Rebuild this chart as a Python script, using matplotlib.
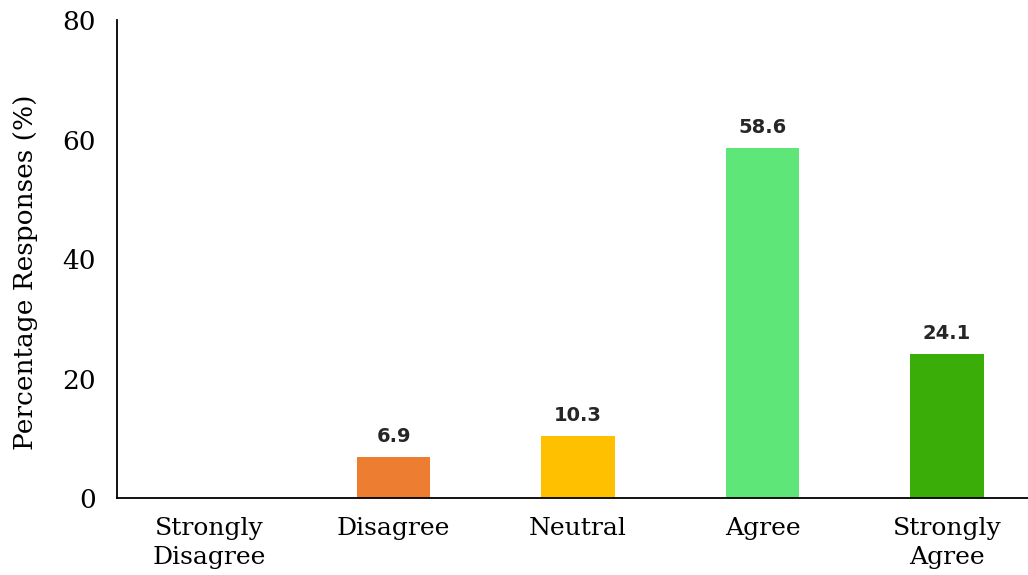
import matplotlib
matplotlib.use('Agg')
import matplotlib.pyplot as plt

categories = ['Strongly\nDisagree', 'Disagree', 'Neutral', 'Agree', 'Strongly\nAgree']
values = [0.0, 6.9, 10.3, 58.6, 24.1]
bar_colors = ['#4472C4', '#ED7D31', '#FFC000', '#5EE678', '#3AAD08']
y_ticks = [0, 20, 40, 60, 80]

plt.rcParams['font.family'] = ['DejaVu Serif']

fig = plt.figure(figsize=(10.28, 5.75), dpi=100)
ax = fig.add_axes([0.1138, 0.1339, 0.8862, 0.8313])

xs = list(range(len(categories)))
bars = ax.bar(xs, values, width=0.4, color=bar_colors, linewidth=0)

for x, v in zip(xs, values):
    if v == 0:
        continue
    ax.annotate('{0:.1f}'.format(v), (x, v), xytext=(0, 8), textcoords='offset points',
                ha='center', va='bottom', fontsize=14, fontweight='bold',
                family='DejaVu Sans', color='#262626')

ax.set_xlim(-0.5, 4.44)
ax.set_ylim(0, 80)
ax.set_yticks(y_ticks)
ax.set_xticks(xs)
ax.set_xticklabels(categories, fontsize=18, linespacing=1.3)
ax.tick_params(axis='y', labelsize=19, length=0, pad=15)
ax.tick_params(axis='x', length=0, pad=14)
ax.set_ylabel('Percentage Responses (%)', fontsize=19)
ax.yaxis.set_label_coords(-0.087, 0.473)

for s in ['top', 'right']:
    ax.spines[s].set_visible(False)
for s in ['left', 'bottom']:
    ax.spines[s].set_linewidth(1.3)
    ax.spines[s].set_color('black')

fig.savefig('out.png', dpi=100)
